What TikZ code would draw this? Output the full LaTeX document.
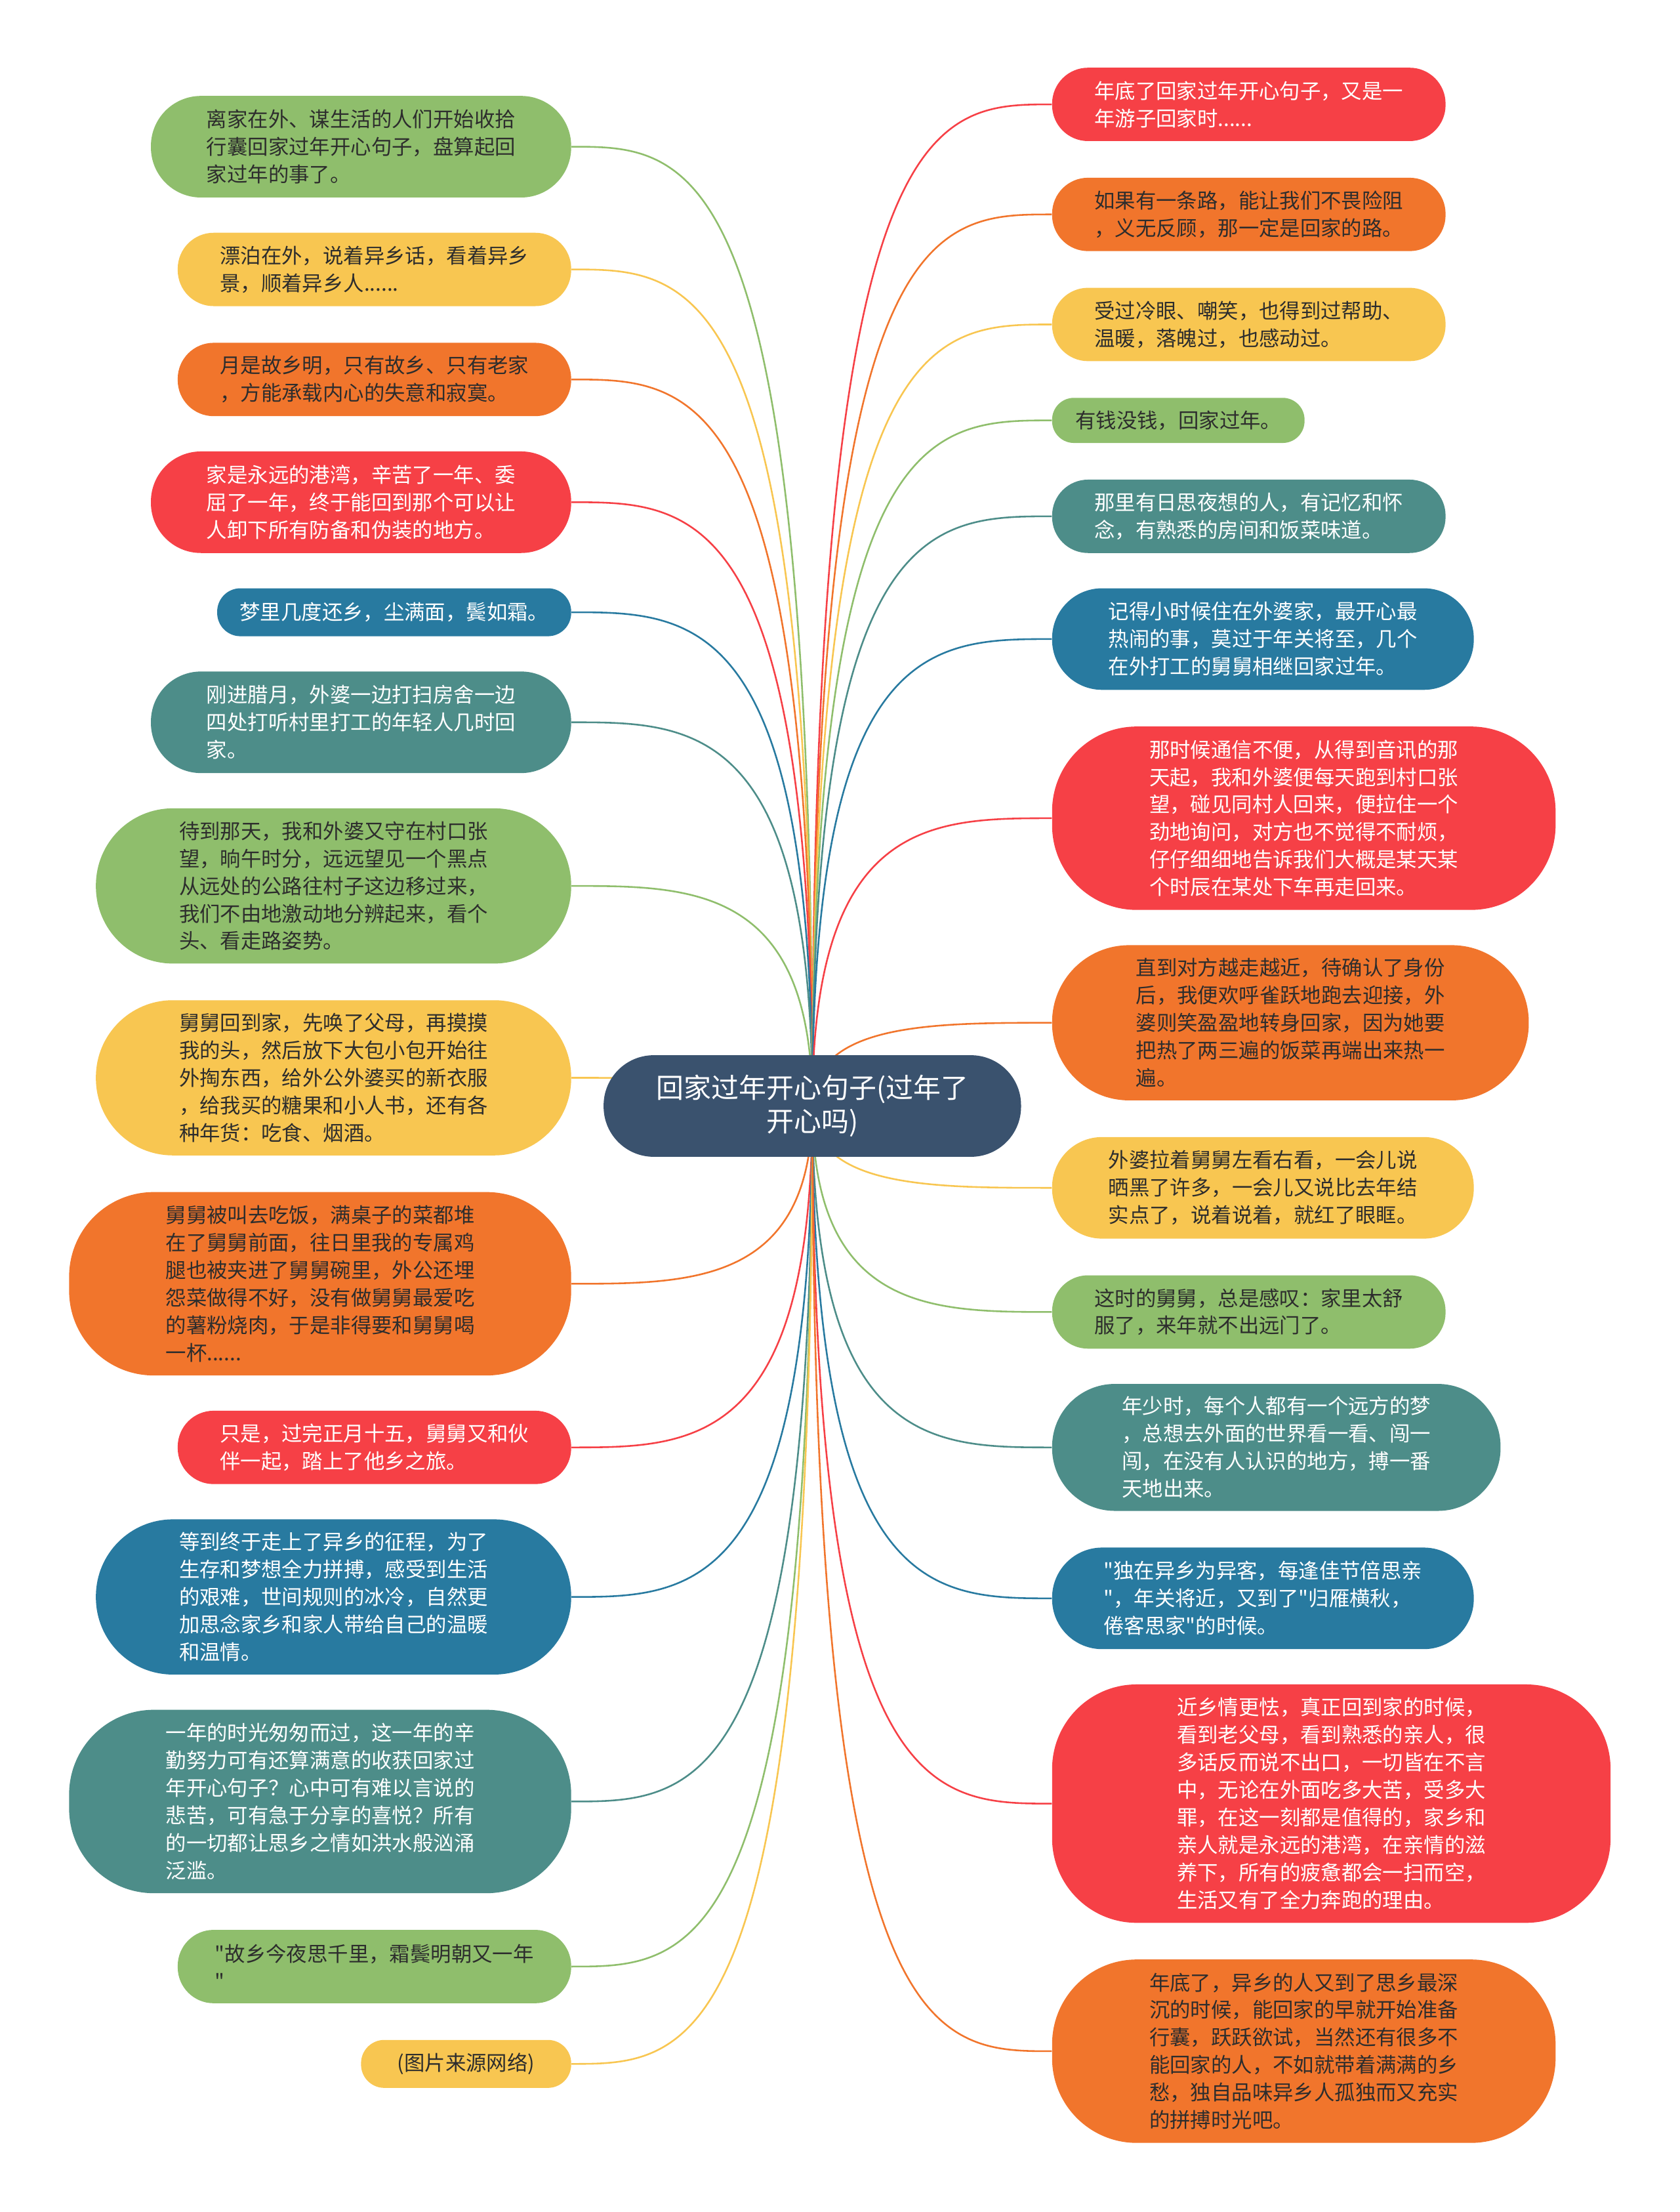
\documentclass[tikz,border=0pt]{standalone}
\usepackage{fontspec}
\newfontfamily\cjk{Noto Sans CJK SC}
\usetikzlibrary{calc,backgrounds}
\definecolor{cgreen}{RGB}{143,190,108}
\definecolor{cyellow}{RGB}{248,198,81}
\definecolor{corange}{RGB}{241,117,44}
\definecolor{cred}{RGB}{246,64,70}
\definecolor{cblue}{RGB}{40,122,160}
\definecolor{cteal}{RGB}{77,141,137}
\definecolor{croot}{RGB}{58,82,110}
\definecolor{cdark}{RGB}{45,45,45}
\begin{document}
\begin{tikzpicture}[x=1pt,y=-1pt,
    leaf/.style={align=left,inner sep=0pt,font={\cjk\fontsize{14.6}{19.5}\selectfont}},
    gn/.style={leaf,fill=cgreen,text=cdark},
    yl/.style={leaf,fill=cyellow,text=cdark},
    og/.style={leaf,fill=corange,text=cdark},
    rd/.style={leaf,fill=cred,text=white},
    bl/.style={leaf,fill=cblue,text=white},
    tl/.style={leaf,fill=cteal,text=white},
    sz/.code 2 args={\pgfmathsetmacro\rad{min(#2/2-0.5,60)}%
      \tikzset{minimum width=#1pt,minimum height=#2pt,rounded corners=\rad pt}},
    link/.style={line width=1.2pt}]
  \useasboundingbox (0,0) rectangle (1191,1568);
  % the root
  \node[sz={296}{72},fill=croot,text=white,align=center,inner sep=0pt,
        font={\cjk\fontsize{19.5}{24}\selectfont}] (root) at (576,784)
    {回家过年开心句子(过年了\\开心吗)};
  % left branch
  \node[gn,sz={298}{72}] (l1) at (256,104)
    {离家在外、谋生活的人们开始收拾\\行囊回家过年开心句子，盘算起回\\家过年的事了。};
  \node[yl,sz={279}{52}] (l2) at (265.5,191)
    {漂泊在外，说着异乡话，看着异乡\\景，顺着异乡人......};
  \node[og,sz={279}{52}] (l3) at (265.5,269)
    {月是故乡明，只有故乡、只有老家\\，方能承载内心的失意和寂寞。};
  \node[rd,sz={298}{72}] (l4) at (256,356)
    {家是永远的港湾，辛苦了一年、委\\屈了一年，终于能回到那个可以让\\人卸下所有防备和伪装的地方。};
  \node[bl,sz={251}{34}] (l5) at (279.5,434)
    {梦里几度还乡，尘满面，鬓如霜。};
  \node[tl,sz={298}{72}] (l6) at (256,512)
    {刚进腊月，外婆一边打扫房舍一边\\四处打听村里打工的年轻人几时回\\家。};
  \node[gn,sz={337}{110}] (l7) at (236.5,628)
    {待到那天，我和外婆又守在村口张\\望，晌午时分，远远望见一个黑点\\从远处的公路往村子这边移过来，\\我们不由地激动地分辨起来，看个\\头、看走路姿势。};
  \node[yl,sz={337}{110}] (l8) at (236.5,764)
    {舅舅回到家，先唤了父母，再摸摸\\我的头，然后放下大包小包开始往\\外掏东西，给外公外婆买的新衣服\\，给我买的糖果和小人书，还有各\\种年货：吃食、烟酒。};
  \node[og,sz={356}{130}] (l9) at (227,910)
    {舅舅被叫去吃饭，满桌子的菜都堆\\在了舅舅前面，往日里我的专属鸡\\腿也被夹进了舅舅碗里，外公还埋\\怨菜做得不好，没有做舅舅最爱吃\\的薯粉烧肉，于是非得要和舅舅喝\\一杯......};
  \node[rd,sz={279}{52}] (l10) at (265.5,1026)
    {只是，过完正月十五，舅舅又和伙\\伴一起，踏上了他乡之旅。};
  \node[bl,sz={337}{110}] (l11) at (236.5,1132)
    {等到终于走上了异乡的征程，为了\\生存和梦想全力拼搏，感受到生活\\的艰难，世间规则的冰冷，自然更\\加思念家乡和家人带给自己的温暖\\和温情。};
  \node[tl,sz={356}{130}] (l12) at (227,1277)
    {一年的时光匆匆而过，这一年的辛\\勤努力可有还算满意的收获回家过\\年开心句子？心中可有难以言说的\\悲苦，可有急于分享的喜悦？所有\\的一切都让思乡之情如洪水般汹涌\\泛滥。};
  \node[gn,sz={279}{52}] (l13) at (265.5,1394)
    {"故乡今夜思千里，霜鬓明朝又一年\\"};
  \node[yl,sz={149}{34}] (l14) at (330.5,1463)
    {(图片来源网络)};
  % right branch
  \node[rd,sz={279}{52}] (r1) at (885.5,74)
    {年底了回家过年开心句子，又是一\\年游子回家时......};
  \node[og,sz={279}{52}] (r2) at (885.5,152)
    {如果有一条路，能让我们不畏险阻\\，义无反顾，那一定是回家的路。};
  \node[yl,sz={279}{52}] (r3) at (885.5,230)
    {受过冷眼、嘲笑，也得到过帮助、\\温暖，落魄过，也感动过。};
  \node[gn,sz={179}{32}] (r4) at (835.5,298)
    {有钱没钱，回家过年。};
  \node[tl,sz={279}{52}] (r5) at (885.5,366)
    {那里有日思夜想的人，有记忆和怀\\念，有熟悉的房间和饭菜味道。};
  \node[bl,sz={299}{72}] (r6) at (895.5,453)
    {记得小时候住在外婆家，最开心最\\热闹的事，莫过于年关将至，几个\\在外打工的舅舅相继回家过年。};
  \node[rd,sz={357}{130}] (r7) at (924.5,580)
    {那时候通信不便，从得到音讯的那\\天起，我和外婆便每天跑到村口张\\望，碰见同村人回来，便拉住一个\\劲地询问，对方也不觉得不耐烦，\\仔仔细细地告诉我们大概是某天某\\个时辰在某处下车再走回来。};
  \node[og,sz={338}{110}] (r8) at (915,725)
    {直到对方越走越近，待确认了身份\\后，我便欢呼雀跃地跑去迎接，外\\婆则笑盈盈地转身回家，因为她要\\把热了两三遍的饭菜再端出来热一\\遍。};
  \node[yl,sz={299}{72}] (r9) at (895.5,842)
    {外婆拉着舅舅左看右看，一会儿说\\晒黑了许多，一会儿又说比去年结\\实点了，说着说着，就红了眼眶。};
  \node[gn,sz={279}{52}] (r10) at (885.5,930)
    {这时的舅舅，总是感叹：家里太舒\\服了，来年就不出远门了。};
  \node[tl,sz={318}{90}] (r11) at (905,1026)
    {年少时，每个人都有一个远方的梦\\，总想去外面的世界看一看、闯一\\闯，在没有人认识的地方，搏一番\\天地出来。};
  \node[bl,sz={299}{72}] (r12) at (895.5,1133)
    {"独在异乡为异客，每逢佳节倍思亲\\"，年关将近，又到了"归雁横秋，\\倦客思家"的时候。};
  \node[rd,sz={396}{169}] (r13) at (944,1278.5)
    {近乡情更怯，真正回到家的时候，\\看到老父母，看到熟悉的亲人，很\\多话反而说不出口，一切皆在不言\\中，无论在外面吃多大苦，受多大\\罪，在这一刻都是值得的，家乡和\\亲人就是永远的港湾，在亲情的滋\\养下，所有的疲惫都会一扫而空，\\生活又有了全力奔跑的理由。};
  \node[og,sz={357}{130}] (r14) at (924.5,1454)
    {年底了，异乡的人又到了思乡最深\\沉的时候，能回家的早就开始准备\\行囊，跃跃欲试，当然还有很多不\\能回家的人，不如就带着满满的乡\\愁，独自品味异乡人孤独而又充实\\的拼搏时光吧。};
  % connectors, behind the boxes
  \begin{scope}[on background layer]
    \foreach \n/\c in {l1/cgreen,l2/cyellow,l3/corange,l4/cred,l5/cblue,l6/cteal,
        l7/cgreen,l8/cyellow,l9/corange,l10/cred,l11/cblue,l12/cteal,l13/cgreen,l14/cyellow}
      \draw[link,\c] (root.center) .. controls (root.center |- \n.east)
        and ($(root.center |- \n.east)!0.5!(\n.east)$) .. (\n.east);
    \foreach \n/\c in {r1/cred,r2/corange,r3/cyellow,r4/cgreen,r5/cteal,r6/cblue,
        r7/cred,r8/corange,r9/cyellow,r10/cgreen,r11/cteal,r12/cblue,r13/cred,r14/corange}
      \draw[link,\c] (root.center) .. controls (root.center |- \n.west)
        and ($(root.center |- \n.west)!0.5!(\n.west)$) .. (\n.west);
  \end{scope}
\end{tikzpicture}
\end{document}
